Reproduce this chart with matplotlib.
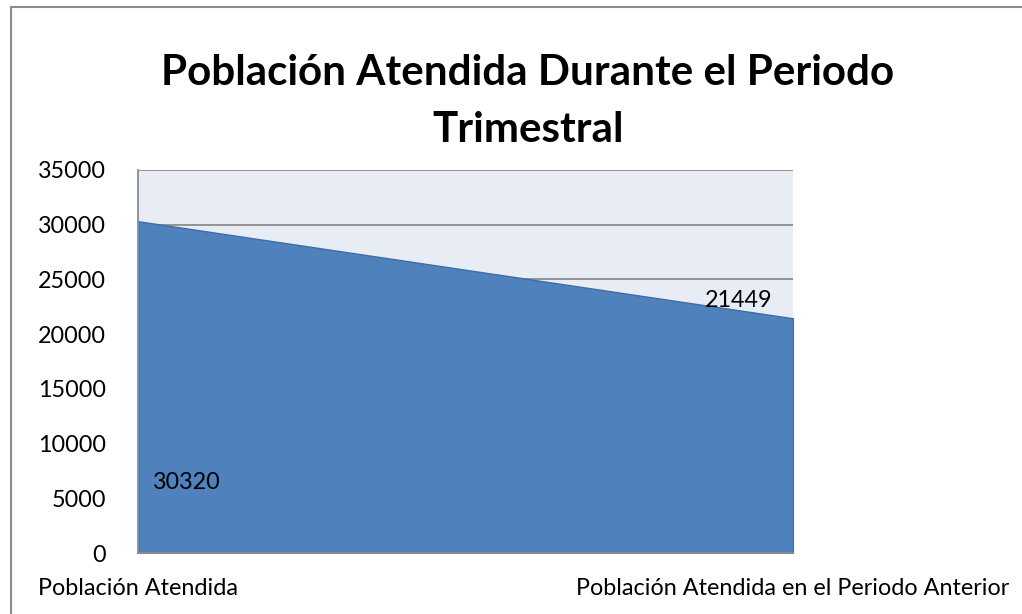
import matplotlib.pyplot as plt
import matplotlib.lines as mlines

# data
categories = ['Población Atendida', 'Población Atendida en el Periodo Anterior']
values = [30320, 21449]
yticks = [0, 5000, 10000, 15000, 20000, 25000, 30000, 35000]

plt.rcParams['font.family'] = ['Lato', 'DejaVu Sans']
fs = 16.8

fig = plt.figure(figsize=(10.22, 6.14), dpi=100)
ax = fig.add_axes([138/1022, 1-553/614, 655/1022, 383/614])

x = list(range(len(values)))
ax.set_facecolor('#E8ECF4')
ax.fill_between(x, values, 0, color='#4F81BD', edgecolor='#3E6DA6', linewidth=1, zorder=3)
ax.set_xlim(0, 1)
ax.set_ylim(0, 35000)
ax.set_yticks(yticks)
ax.set_yticklabels([str(t) for t in yticks], fontsize=fs)
ax.set_xticks(x)
ax.set_xticklabels(categories, fontsize=fs)
ax.tick_params(axis='y', length=0, pad=23)
ax.tick_params(axis='x', length=0, pad=18)
ax.grid(axis='y', color='#8C8C8C', linewidth=1.3, zorder=1)
ax.set_axisbelow(True)
for s in ['top', 'right']:
    ax.spines[s].set_visible(False)
for s in ['left', 'bottom']:
    ax.spines[s].set_color('#8C8C8C')
    ax.spines[s].set_linewidth(1.3)
    ax.spines[s].set_zorder(4)

# data labels, placed where the original puts them
ax.text(0.023, 6400, str(values[0]), fontsize=fs, ha='left', va='center', zorder=5)
ax.text(0.969, 23100, str(values[1]), fontsize=fs, ha='right', va='center', zorder=5)

fig.text(528/1022, 1-73/614, 'Población Atendida Durante el Periodo', fontsize=30.3,
         fontweight='bold', ha='center', va='center')
fig.text(528/1022, 1-130/614, 'Trimestral', fontsize=30.3,
         fontweight='bold', ha='center', va='center')

# outer chart border (left and top visible)
fig.add_artist(mlines.Line2D([11/1022, 11/1022], [0, 1-7/614], color='#8C8C8C', linewidth=1.5,
                             transform=fig.transFigure))
fig.add_artist(mlines.Line2D([11/1022, 1], [1-7/614, 1-7/614], color='#8C8C8C', linewidth=1.5,
                             transform=fig.transFigure))

fig.savefig('out.png', dpi=100)
